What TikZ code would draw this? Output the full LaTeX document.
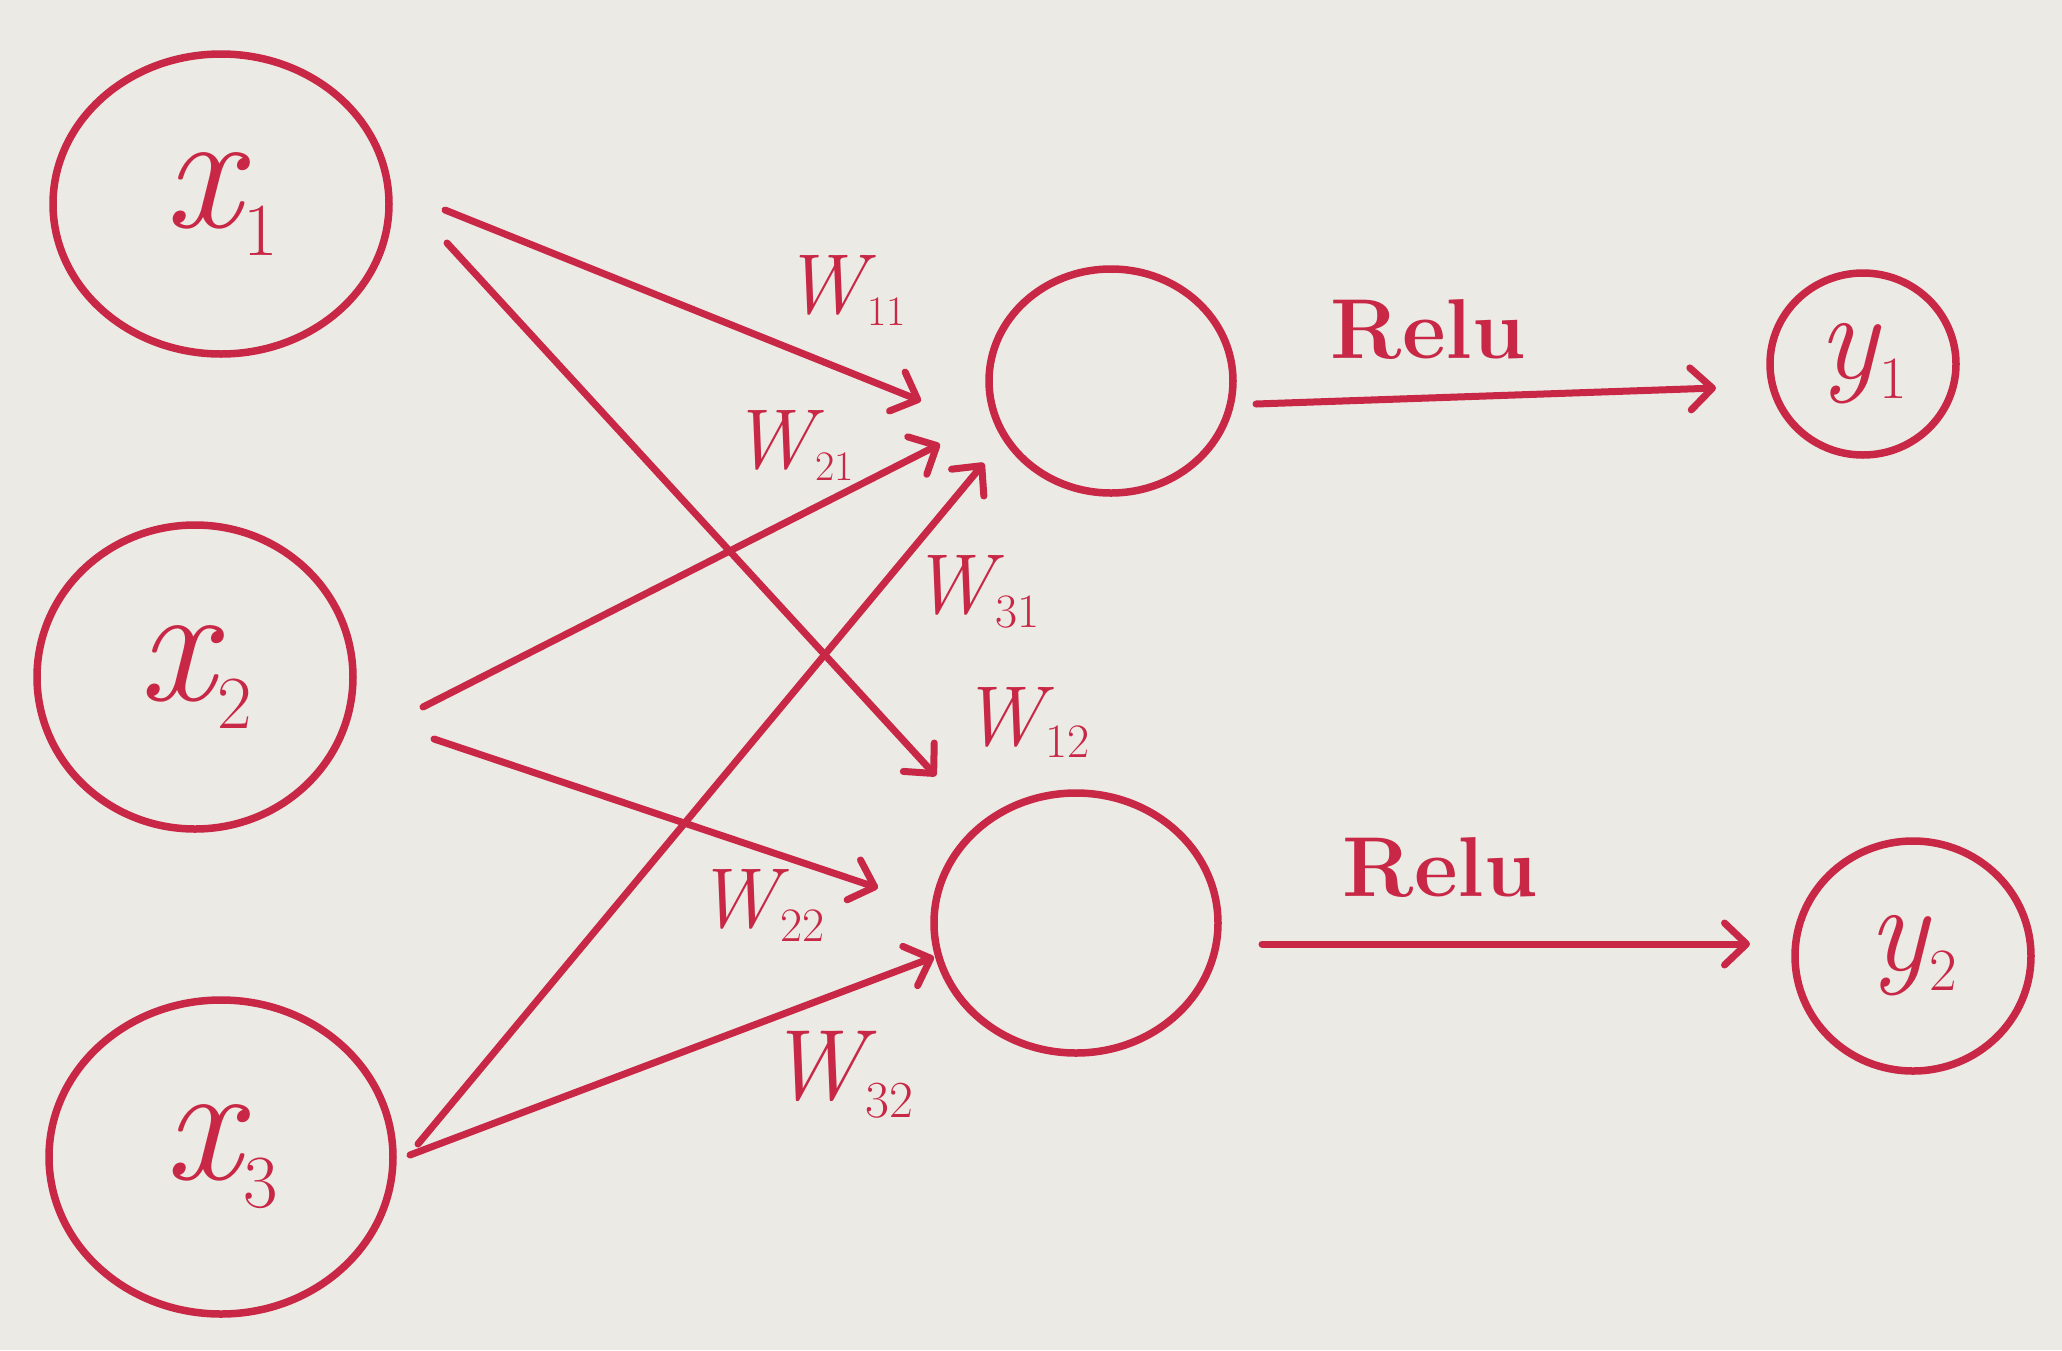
\documentclass[tikz,border=0pt]{standalone}
\usetikzlibrary{arrows.meta,shapes.geometric,calc}
\definecolor{ink}{RGB}{200,40,70}
\definecolor{paper}{RGB}{236,234,229}
% #1 main size, #2 sub size, #3 drop, #4 letter, #5 index
\newcommand\hwlab[5]{{\fontsize{#1}{#1}\selectfont\itshape #4}\kern2pt\raisebox{-#3}{\fontsize{#2}{#2}\selectfont #5}}
\begin{document}
\begin{tikzpicture}[x=1pt,y=-1pt,
  neuron/.style={draw=ink,line width=7.5pt,ellipse,inner sep=0pt,text=ink},
  edge/.style={draw=ink,line width=7pt,line cap=round,
    -{Straight Barb[length=22pt,width=42pt,line cap=round,line join=round]}},
  wlab/.style={text=ink,inner sep=0pt},
  rlab/.style={text=ink,inner sep=0pt,font=\fontsize{85}{95}\selectfont\bfseries}]
\fill[paper] (0,0) rectangle (2062,1350);
\useasboundingbox (0,0) rectangle (2062,1350);
% input layer
\node[neuron,minimum width=336pt,minimum height=300pt] (x1) at (221,204) {\hwlab{170pt}{75pt}{28pt}{x}{1}};
\node[neuron,minimum width=316pt,minimum height=304pt] (x2) at (195,677) {\hwlab{170pt}{75pt}{28pt}{x}{2}};
\node[neuron,minimum width=344pt,minimum height=314pt] (x3) at (221,1157) {\hwlab{170pt}{75pt}{28pt}{x}{3}};
% hidden layer
\node[neuron,minimum width=244pt,minimum height=224pt] (h1) at (1111,381) {};
\node[neuron,minimum width=284pt,minimum height=260pt] (h2) at (1076,923) {};
% output layer
\node[neuron,minimum width=186pt,minimum height=182pt] (y1) at (1863,364) {\hwlab{125pt}{60pt}{20pt}{y}{1}};
\node[neuron,minimum width=236pt,minimum height=230pt] (y2) at (1913,956) {\hwlab{125pt}{60pt}{20pt}{y}{2}};
% weighted connections
\draw[edge] ($(x1)+(224,6)$) -- ($(h1)+(-190,20)$);
\draw[edge] ($(x1)+(226,39)$) -- ($(h2)+(-140,-147)$);
\draw[edge] ($(x2)+(228,30)$) -- ($(h1)+(-171,63)$);
\draw[edge] ($(x2)+(239,62)$) -- ($(h2)+(-198,-35)$);
\draw[edge] ($(x3)+(197,-13)$) -- ($(h1)+(-127,82)$);
\draw[edge] ($(x3)+(189,-2)$) -- ($(h2)+(-142,34)$);
% activations
\draw[edge] ($(h1)+(145,23)$) -- ($(y1)+(-147,24)$);
\draw[edge] ($(h2)+(186,21)$) -- ($(y2)+(-163,-12)$);
% labels
\node[wlab] (w11) at (844,290) {\hwlab{85pt}{42pt}{12pt}{W}{11}};
\node[wlab] (w21) at (792,445) {\hwlab{85pt}{42pt}{12pt}{W}{21}};
\node[wlab] (w31) at (975,592) {\hwlab{85pt}{48pt}{14pt}{W}{31}};
\node[wlab] (w12) at (1025,722) {\hwlab{85pt}{48pt}{12pt}{W}{12}};
\node[wlab] (w22) at (760,905) {\hwlab{85pt}{48pt}{14pt}{W}{22}};
\node[wlab] (w32) at (840,1075) {\hwlab{100pt}{52pt}{18pt}{W}{32}};
\node[rlab] (r1) at (1428,330) {Relu};
\node[rlab] (r2) at (1440,868) {Relu};
\end{tikzpicture}
\end{document}
